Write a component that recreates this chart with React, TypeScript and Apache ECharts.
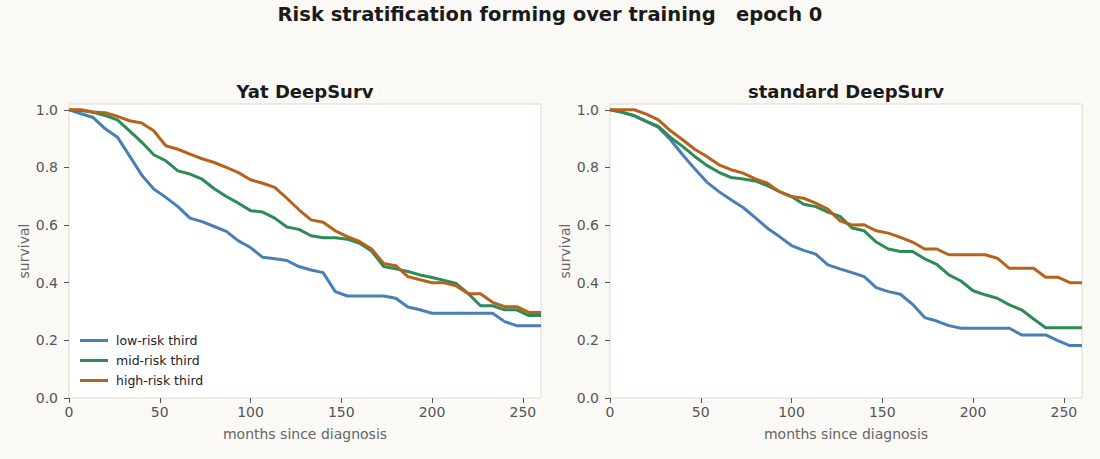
import React, { useEffect, useRef } from "react";
import * as echarts from "echarts";

const months = [0, 6.67, 13.33, 20, 26.67, 33.33, 40, 46.67, 53.33, 60, 66.67, 73.33, 80, 86.67, 93.33, 100, 106.67, 113.33, 120, 126.67, 133.33, 140, 146.67, 153.33, 160, 166.67, 173.33, 180, 186.67, 193.33, 200, 206.67, 213.33, 220, 226.67, 233.33, 240, 246.67, 253.33, 260];

const seriesNames = ["low-risk third", "mid-risk third", "high-risk third"];
const panelTitles = ["Yat DeepSurv", "standard DeepSurv"];
const xTicks = [0, 50, 100, 150, 200, 250];
const yTicks = [0, 0.2, 0.4, 0.6, 0.8, 1.0];

const yatLow = [1.0, 0.986, 0.973, 0.934, 0.905, 0.84, 0.774, 0.725, 0.696, 0.664, 0.624, 0.612, 0.595, 0.578, 0.545, 0.522, 0.488, 0.483, 0.477, 0.456, 0.444, 0.435, 0.369, 0.354, 0.354, 0.354, 0.354, 0.346, 0.316, 0.306, 0.294, 0.294, 0.294, 0.294, 0.294, 0.294, 0.265, 0.251, 0.251, 0.251];
const yatMid = [1.0, 0.997, 0.991, 0.98, 0.965, 0.927, 0.888, 0.844, 0.823, 0.788, 0.777, 0.759, 0.726, 0.699, 0.676, 0.65, 0.645, 0.624, 0.593, 0.585, 0.563, 0.556, 0.556, 0.551, 0.537, 0.51, 0.456, 0.448, 0.439, 0.427, 0.418, 0.408, 0.397, 0.362, 0.32, 0.32, 0.306, 0.306, 0.286, 0.286];
const yatHigh = [1.0, 1.0, 0.992, 0.99, 0.977, 0.962, 0.954, 0.927, 0.875, 0.863, 0.846, 0.83, 0.817, 0.8, 0.782, 0.757, 0.745, 0.731, 0.693, 0.653, 0.618, 0.61, 0.58, 0.56, 0.543, 0.517, 0.467, 0.459, 0.421, 0.41, 0.4, 0.4, 0.389, 0.362, 0.362, 0.332, 0.317, 0.317, 0.297, 0.297];

const stdLow = [1.0, 0.992, 0.98, 0.96, 0.939, 0.896, 0.844, 0.795, 0.749, 0.716, 0.688, 0.661, 0.626, 0.589, 0.56, 0.529, 0.512, 0.499, 0.462, 0.448, 0.435, 0.421, 0.383, 0.369, 0.36, 0.325, 0.279, 0.267, 0.251, 0.242, 0.242, 0.242, 0.242, 0.242, 0.219, 0.219, 0.219, 0.199, 0.182, 0.182];
const stdMid = [1.0, 0.991, 0.979, 0.96, 0.942, 0.904, 0.873, 0.838, 0.807, 0.783, 0.765, 0.76, 0.753, 0.737, 0.716, 0.699, 0.672, 0.664, 0.645, 0.63, 0.59, 0.58, 0.541, 0.517, 0.508, 0.508, 0.483, 0.464, 0.427, 0.406, 0.372, 0.358, 0.346, 0.323, 0.306, 0.274, 0.244, 0.244, 0.244, 0.244];
const stdHigh = [1.0, 1.0, 1.0, 0.985, 0.965, 0.927, 0.896, 0.863, 0.838, 0.809, 0.792, 0.78, 0.76, 0.745, 0.716, 0.699, 0.693, 0.676, 0.655, 0.615, 0.6, 0.601, 0.58, 0.572, 0.557, 0.541, 0.517, 0.517, 0.497, 0.497, 0.497, 0.497, 0.485, 0.45, 0.45, 0.45, 0.419, 0.419, 0.4, 0.4];

const colors = ["#4a7fb4", "#2e8b57", "#b5621b"];
const FONT = "DejaVu Sans";

export default function App() {
  const ref = useRef<HTMLDivElement>(null);
  useEffect(() => {
    document.body.style.margin = "0";
    if (!ref.current) return;
    const chart = echarts.init(ref.current, null, { renderer: "svg" });
    const panels = [
      [yatLow, yatMid, yatHigh],
      [stdLow, stdMid, stdHigh],
    ];
    const gridLefts = [69, 610];
    const grids = gridLefts.map((l) => ({
      left: l,
      top: 104,
      width: 472,
      height: 294,
      show: true,
      backgroundColor: "#ffffff",
      borderColor: "#e0d9cc",
      borderWidth: 1,
    }));
    const xAxes = gridLefts.map((_, i) => ({
      type: "value",
      gridIndex: i,
      min: 0,
      max: 260,
      interval: 50,
      name: "months since diagnosis",
      nameLocation: "middle",
      nameGap: 29,
      nameTextStyle: { color: "#666", fontSize: 14, fontFamily: FONT },
      axisLine: { show: false },
      axisTick: { show: true, length: 5, lineStyle: { color: "#555" }, customValues: xTicks },
      axisLabel: { color: "#555", fontSize: 14, fontFamily: FONT, margin: 7, customValues: xTicks },
      splitLine: { show: false },
    }));
    const yAxes = gridLefts.map((_, i) => ({
      type: "value",
      gridIndex: i,
      min: 0,
      max: 1.02,
      interval: 0.2,
      name: "survival",
      nameLocation: "middle",
      nameGap: 38,
      nameTextStyle: { color: "#666", fontSize: 14, fontFamily: FONT },
      axisLine: { show: false },
      axisTick: { show: true, length: 5, lineStyle: { color: "#555" }, customValues: yTicks },
      axisLabel: {
        color: "#555",
        fontSize: 14,
        fontFamily: FONT,
        margin: 11,
        customValues: yTicks,
        formatter: (v: number) => v.toFixed(1),
      },
      splitLine: { show: false },
    }));
    const series: any[] = [];
    panels.forEach((p, pi) => {
      p.forEach((vals, si) => {
        series.push({
          type: "line",
          name: seriesNames[si],
          xAxisIndex: pi,
          yAxisIndex: pi,
          data: months.map((m, k) => [m, vals[k]]),
          showSymbol: false,
          symbol: "none",
          lineStyle: { width: 3, color: colors[si] },
          itemStyle: { color: colors[si] },
          z: 2 + si,
        });
      });
    });
    chart.setOption({
      animation: false,
      backgroundColor: "#faf9f5",
      grid: grids,
      xAxis: xAxes,
      yAxis: yAxes,
      legend: {
        data: seriesNames,
        orient: "vertical",
        left: 80,
        top: 334,
        padding: 0,
        itemWidth: 28,
        itemHeight: 3,
        itemGap: 7,
        icon: "rect",
        textStyle: { color: "#222", fontSize: 12.5, fontFamily: FONT, padding: [0, 0, 0, 3] },
      },
      graphic: [
        {
          type: "text",
          x: 550,
          y: 14,
          style: {
            text: "Risk stratification forming over training   epoch 0",
            fill: "#1a1a1a",
            font: `bold 19.5px "${FONT}"`,
            textAlign: "center",
            textVerticalAlign: "middle",
          },
        },
        ...panelTitles.map((t, i) => ({
          type: "text",
          x: gridLefts[i] + 236,
          y: 91,
          style: {
            text: t,
            fill: "#1a1a1a",
            font: `bold 18px "${FONT}"`,
            textAlign: "center",
            textVerticalAlign: "middle",
          },
        })),
      ],
      series,
    });
    return () => chart.dispose();
  }, []);
  return <div ref={ref} style={{ width: 1100, height: 459 }} />;
}
